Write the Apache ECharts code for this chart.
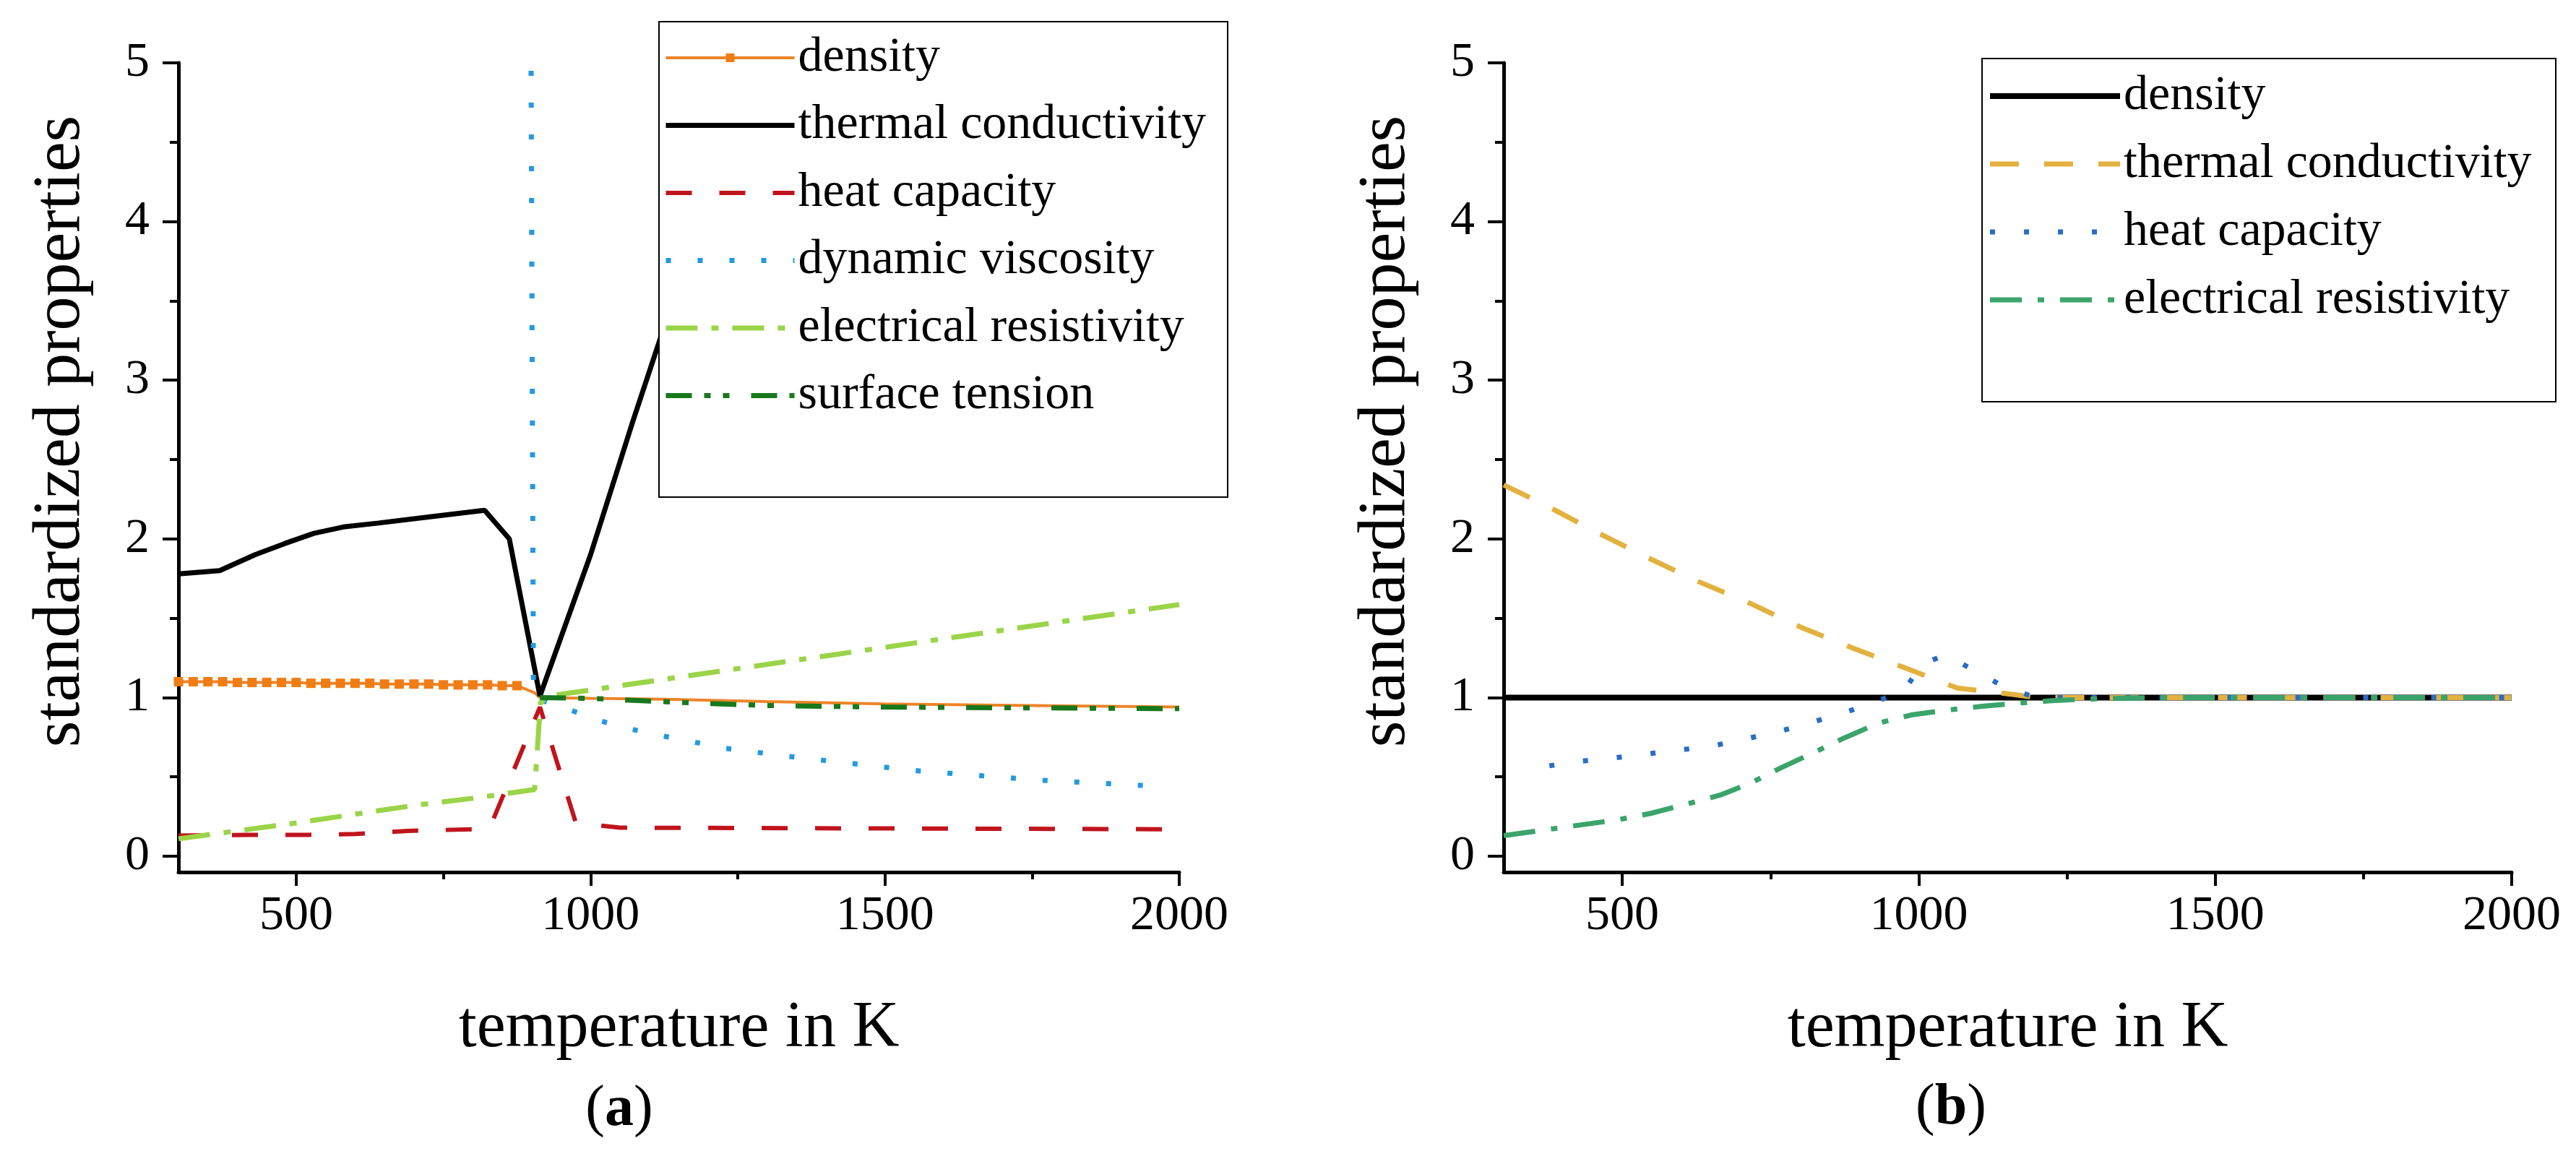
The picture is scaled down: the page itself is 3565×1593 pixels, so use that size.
<!DOCTYPE html>
<html><head><meta charset="utf-8">
<script src="https://cdn.jsdelivr.net/npm/echarts@6/dist/echarts.min.js"></script>
<style>html,body{margin:0;padding:0;background:#fff}#c{width:3565px;height:1593px}</style>
</head><body><div id="c"></div>
<script>
// ---- axes ----
const xTicks = [500, 1000, 1500, 2000];
const xMinorTicks = [750, 1250, 1750];
const yTicks = [0, 1, 2, 3, 4, 5];
const yMinorTicks = [0.5, 1.5, 2.5, 3.5, 4.5];

// ---- panel (a) ----
const aNames = ['density', 'thermal conductivity', 'heat capacity', 'dynamic viscosity', 'electrical resistivity', 'surface tension'];
const aDensityX = [300,325,350,375,400,425,450,475,500,525,550,575,600,625,650,675,700,725,750,775,800,825,850,875,905,914,1000,1126,1300,1500,1750,2000];
const aDensityY = [1.10,1.10,1.10,1.10,1.095,1.095,1.095,1.095,1.095,1.09,1.09,1.09,1.09,1.09,1.085,1.085,1.085,1.085,1.08,1.08,1.08,1.08,1.075,1.075,1.03,1.00,0.995,0.99,0.975,0.96,0.95,0.94];
const aThermalX = [300, 370, 430, 480, 530, 580, 640, 730, 820, 862, 914, 1000, 1070, 1120, 1260];
const aThermalY = [1.78, 1.80, 1.90, 1.97, 2.035, 2.075, 2.10, 2.14, 2.18, 2.00, 1.01, 1.90, 2.72, 3.28, 4.85];
const aHeatX = [300, 420, 520, 600, 690, 800, 830, 914, 975, 1050, 2000];
const aHeatY = [0.13, 0.135, 0.135, 0.14, 0.16, 0.17, 0.19, 0.94, 0.21, 0.18, 0.17];
const aViscX = [899, 903, 960, 1010, 1070, 1120, 1175, 1230, 1335, 1550, 1760, 1970];
const aViscY = [4.95, 1.0, 0.93, 0.86, 0.80, 0.76, 0.72, 0.68, 0.63, 0.54, 0.48, 0.44];
const aElecX = [300, 400, 500, 600, 700, 800, 905, 915, 930, 2000];
const aElecY = [0.11, 0.16, 0.21, 0.265, 0.32, 0.365, 0.42, 0.97, 1.01, 1.586];
const aSurfX = [914, 1000, 1100, 1200, 1300, 1500, 1750, 2000];
const aSurfY = [1.0, 0.995, 0.978, 0.962, 0.95, 0.94, 0.935, 0.93];

// ---- panel (b) ----
const bNames = ['density', 'thermal conductivity', 'heat capacity', 'electrical resistivity'];
const bDensityX = [300, 2000];
const bDensityY = [1.0, 1.0];
const bThermalX = [300, 377, 458, 544, 629, 718, 800, 890, 975, 1065, 1158, 1200, 2000];
const bThermalY = [2.34, 2.20, 2.04, 1.88, 1.73, 1.59, 1.445, 1.31, 1.19, 1.06, 1.02, 1.0, 1.0];
const bHeatX = [377, 433, 487, 543, 598, 652, 709, 763, 816, 871, 921, 974, 1006, 1045, 1094, 1143, 1197, 2000];
const bHeatY = [0.57, 0.60, 0.62, 0.645, 0.67, 0.695, 0.74, 0.785, 0.84, 0.90, 0.965, 1.04, 1.21, 1.27, 1.17, 1.07, 1.0, 1.0];
const bElecX = [300, 377, 435, 493, 548, 610, 665, 716, 769, 824, 874, 933, 987, 1045, 1107, 1166, 1224, 1283, 1341, 1400, 2000];
const bElecY = [0.13, 0.17, 0.20, 0.23, 0.27, 0.33, 0.385, 0.46, 0.56, 0.655, 0.745, 0.84, 0.89, 0.92, 0.945, 0.965, 0.98, 0.99, 0.995, 1.0, 1.0];

const xTitle = 'temperature in K';
const yTitle = 'standardized properties';

const FONT = 'Liberation Serif';
const zip = (xs, ys) => xs.map((x, i) => [x, ys[i]]);
const plain = v => String(v);

function mainX(gridIndex) {
  return {
    type: 'value', gridIndex, min: 300, max: 2000, position: 'bottom',
    name: xTitle, nameLocation: 'middle', nameGap: 172,
    nameTextStyle: { fontFamily: FONT, fontSize: 90, color: '#000', lineHeight: 90 },
    axisLine: { show: true, onZero: false, lineStyle: { color: '#000', width: 5 } },
    axisTick: { show: true, customValues: xTicks, length: 19, lineStyle: { color: '#000', width: 4 } },
    axisLabel: { show: true, customValues: xTicks, formatter: plain, margin: 28, fontFamily: FONT, fontSize: 68, color: '#000', lineHeight: 66 },
    splitLine: { show: false }
  };
}
function minorX(gridIndex) {
  return {
    type: 'value', gridIndex, min: 300, max: 2000, position: 'bottom', offset: 0,
    axisLine: { show: false, onZero: false },
    axisTick: { show: true, customValues: xMinorTicks, length: 10, lineStyle: { color: '#000', width: 4 } },
    axisLabel: { show: false }, splitLine: { show: false }
  };
}
function mainY(gridIndex) {
  return {
    type: 'value', gridIndex, min: -0.1, max: 5, position: 'left',
    name: yTitle, nameLocation: 'middle', nameGap: 116,
    nameTextStyle: { fontFamily: FONT, fontSize: 94, color: '#000', lineHeight: 94, padding: [0, 0, 0, 100] },
    axisLine: { show: true, onZero: false, lineStyle: { color: '#000', width: 5 } },
    axisTick: { show: true, customValues: yTicks, length: 22, lineStyle: { color: '#000', width: 4 } },
    axisLabel: { show: true, customValues: yTicks, formatter: plain, margin: 40, fontFamily: FONT, fontSize: 68, color: '#000' },
    splitLine: { show: false }
  };
}
function minorY(gridIndex) {
  return {
    type: 'value', gridIndex, min: -0.1, max: 5, position: 'left', offset: 0,
    axisLine: { show: false, onZero: false },
    axisTick: { show: true, customValues: yMinorTicks, length: 12, lineStyle: { color: '#000', width: 4 } },
    axisLabel: { show: false }, splitLine: { show: false }
  };
}
function line(name, xi, xs, ys, color, width, type, extra) {
  return Object.assign({
    type: 'line', name, xAxisIndex: xi, yAxisIndex: xi, data: zip(xs, ys),
    symbol: 'none', showSymbol: false, animation: false, clip: true,
    lineStyle: { color, width, type, cap: 'butt' }, itemStyle: { color }
  }, extra || {});
}

const series = [
  line('a:density', 0, aDensityX, aDensityY, '#ee8427', 4, 'solid', {
    symbol: 'rect', showSymbol: true, showAllSymbol: true,
    symbolSize: v => (v[0] < 890 ? 13 : 0), itemStyle: { color: '#f07d14' }
  }),
  line('a:thermal conductivity', 0, aThermalX, aThermalY, '#000000', 7, 'solid'),
  line('a:heat capacity', 0, aHeatX, aHeatY, '#c0141c', 6, [36, 38]),
  line('a:dynamic viscosity', 0, aViscX, aViscY, '#2399e0', 7, [7, 37]),
  line('a:electrical resistivity', 0, aElecX, aElecY, '#9bd448', 7, [44, 19, 10, 19]),
  line('a:surface tension', 0, aSurfX, aSurfY, '#17791c', 7, [36, 17, 9, 17, 9, 30]),
  line('b:density', 2, bDensityX, bDensityY, '#000000', 8, 'solid'),
  line('b:thermal conductivity', 2, bThermalX, bThermalY, '#e3b13f', 7, [40, 35]),
  line('b:heat capacity', 2, bHeatX, bHeatY, '#2b6cc4', 7, [7, 40]),
  line('b:electrical resistivity', 2, bElecX, bElecY, '#3aa46a', 7, [44, 22, 9, 22])
];

const legendText = { fontFamily: FONT, fontSize: 68, color: '#000', lineHeight: 70 };
const legendItem = (prefix, n) => ({
  name: prefix + n,
  itemStyle: (prefix === 'a:' && n === 'density') ? { opacity: 1 } : { opacity: 0 }
});
const chart = echarts.init(document.getElementById('c'));
chart.setOption({
  backgroundColor: '#fff',
  animation: false,
  grid: [
    { left: 247, right: 1933, top: 87, bottom: 386 },
    { left: 2081, right: 89, top: 87, bottom: 386 }
  ],
  xAxis: [mainX(0), minorX(0), mainX(1), minorX(1)],
  yAxis: [mainY(0), minorY(0), mainY(1), minorY(1)],
  legend: [
    {
      orient: 'vertical', left: 918, top: 45, padding: 0, zlevel: 1, z: 10,
      itemWidth: 178, itemHeight: 15, itemGap: 23.5, selectedMode: false,
      lineStyle: { width: 'inherit' },
      data: aNames.map(n => legendItem('a:', n)), formatter: n => n.slice(2), textStyle: legendText
    },
    {
      orient: 'vertical', left: 2750, top: 98, padding: 0, zlevel: 1, z: 10,
      itemWidth: 180, itemHeight: 15, itemGap: 24, selectedMode: false,
      lineStyle: { width: 'inherit' },
      data: bNames.map(n => legendItem('b:', n)), formatter: n => n.slice(2), textStyle: legendText
    }
  ],
  graphic: [
    { type: 'rect', zlevel: 1, z: 1, shape: { x: 912, y: 30, width: 787, height: 658 },
      style: { fill: '#fff', stroke: '#000', lineWidth: 2 } },
    { type: 'rect', zlevel: 1, z: 1, shape: { x: 2743, y: 81, width: 794, height: 475 },
      style: { fill: '#fff', stroke: '#000', lineWidth: 2 } },
    { type: 'text', x: 857, y: 1536,
      style: { text: '({b|a})', fontFamily: FONT, fontSize: 80, fill: '#000', align: 'center', verticalAlign: 'middle',
        rich: { b: { fontFamily: FONT, fontSize: 80, fontWeight: 'bold', fill: '#000' } } } },
    { type: 'text', x: 2700, y: 1534,
      style: { text: '({b|b})', fontFamily: FONT, fontSize: 80, fill: '#000', align: 'center', verticalAlign: 'middle',
        rich: { b: { fontFamily: FONT, fontSize: 80, fontWeight: 'bold', fill: '#000' } } } }
  ],
  series
});
</script>
</body></html>
